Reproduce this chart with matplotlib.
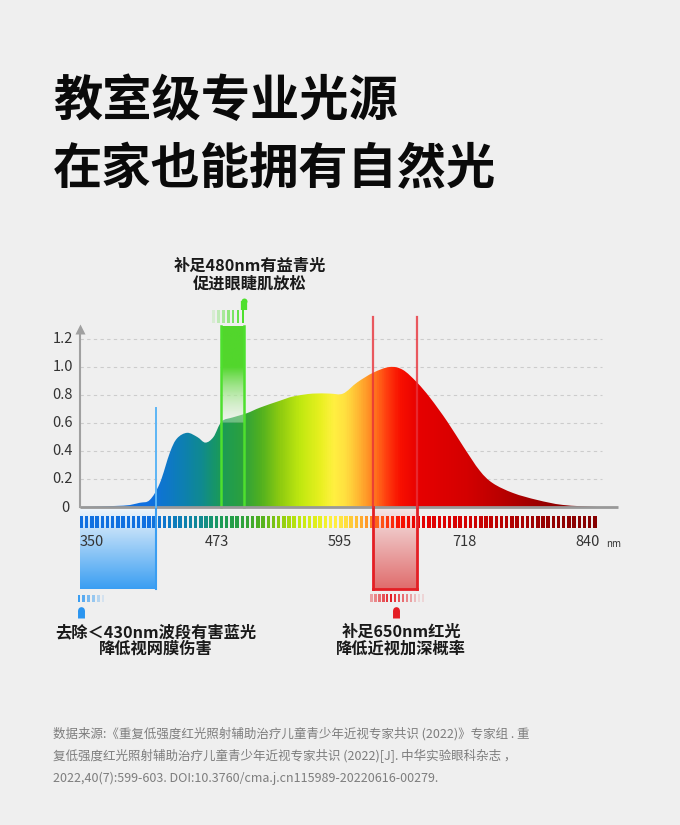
import numpy as np
import matplotlib
matplotlib.use("Agg")
import matplotlib.pyplot as plt
from matplotlib.colors import LinearSegmentedColormap, to_rgba
from matplotlib.patches import PathPatch
from matplotlib.path import Path

plt.rcParams['font.family'] = ['Noto Sans CJK SC', 'DejaVu Sans']

# 光谱曲线 (波长 nm, 相对强度)
wavelength = [338, 381, 397, 407, 417, 427, 434, 444, 454, 462, 470, 478, 489, 503,
              516, 536, 549, 568, 585, 598, 612, 628, 644, 657, 671, 684, 701, 717,
              733, 746, 766, 790, 815, 849]
intensity = [0.0, 0.01, 0.03, 0.05, 0.17, 0.39, 0.49, 0.53, 0.50, 0.46, 0.50, 0.61, 0.64, 0.67,
             0.71, 0.76, 0.79, 0.81, 0.81, 0.81, 0.89, 0.96, 1.00, 0.98, 0.89, 0.78, 0.61, 0.43,
             0.26, 0.17, 0.10, 0.05, 0.015, 0.0]

x_ticks = [350, 473, 595, 718, 840]
y_ticks = [0.2, 0.4, 0.6, 0.8, 1.0, 1.2]
y_tick_labels = ['0.2', '0.4', '0.6', '0.8', '1.0', '1.2']

# 三个标注波段
blue_band = [338.1, 413]
green_band = [477.5, 500.2]
red_band = [627.6, 671]

# 光谱配色
spec_nm = [338, 407, 440, 457, 476, 496, 516, 536, 555, 575, 588, 600, 615, 627, 640, 654, 674, 720, 760, 800, 849]
spec_col = ['#1070e0', '#1070e0', '#0d80b0', '#108a90', '#1a9a58', '#2aa040', '#50b020', '#90cc10',
            '#c0e810', '#e8f020', '#fff040', '#ffe040', '#ffb030', '#ff8020', '#ff4010', '#f81000',
            '#e60000', '#d40000', '#b50000', '#950000', '#850000']
spec_cmap = LinearSegmentedColormap.from_list(
    'spec', [((n - spec_nm[0]) / (spec_nm[-1] - spec_nm[0]), c) for n, c in zip(spec_nm, spec_col)])


def smooth_area_path(xs, ys):
    # Catmull-Rom -> bezier, chỉ để vẽ mượt qua các điểm đã đọc
    p = np.column_stack([xs, ys]).astype(float)
    pp = np.vstack([p[0], p, p[-1]])
    verts = [p[0]]
    codes = [Path.MOVETO]
    for i in range(1, len(pp) - 2):
        c1 = pp[i] + (pp[i + 1] - pp[i - 1]) / 6
        c2 = pp[i + 1] - (pp[i + 2] - pp[i]) / 6
        c1[1] = max(c1[1], 0)
        c2[1] = max(c2[1], 0)
        verts += [c1, c2, pp[i + 1]]
        codes += [Path.CURVE4] * 3
    verts += [(xs[-1], 0), (xs[0], 0), (xs[0], 0)]
    codes += [Path.LINETO, Path.LINETO, Path.CLOSEPOLY]
    return Path(verts, codes)


BG = '#efefef'
fig = plt.figure(figsize=(6.8, 8.25), dpi=100, facecolor=BG)
ax = fig.add_axes([0, 0, 1, 1])
ax.set_facecolor(BG)
ax.set_xlim(259.1, 930.9)
ax.set_ylim(-2.271, 3.621)
ax.axis('off')

x0, x_end = 338.1, 869.7

# 网格线
for yv in y_ticks:
    ax.plot([x0, 853.9], [yv, yv], color='#cccccc', lw=0.8, dashes=(3, 3), zorder=1)

# 曲线 + 渐变填充
patch = PathPatch(smooth_area_path(wavelength, intensity), facecolor='none', edgecolor='none')
ax.add_patch(patch)
grad = np.linspace(0, 1, 800)[np.newaxis, :]
im = ax.imshow(grad, extent=[spec_nm[0], spec_nm[-1], 0, 1.05], aspect='auto',
               cmap=spec_cmap, origin='lower', zorder=2, interpolation='bilinear')
im.set_clip_path(patch)

# 绿色波段
top_g = 1.29
n = 200
g = np.zeros((n, 1, 4))
gc = np.array(to_rgba('#52d62c'))
for i, t in enumerate(np.linspace(0, 1, n)):
    yv = t * top_g
    if yv > 1.0:
        g[i, 0] = gc
    elif yv > 0.6:
        s = (yv - 0.6) / 0.4
        col = gc * s + np.array([0.95, 0.98, 0.93, 1]) * (1 - s)
        col[3] = 0.35 + 0.65 * s
        g[i, 0] = col
ax.imshow(g, extent=[green_band[0], green_band[1], 0, top_g], aspect='auto', origin='lower',
          zorder=3, interpolation='bilinear')
for xv in green_band:
    ax.plot([xv, xv], [0, top_g], color='#4ee02e', lw=1.8, zorder=4)
gx = np.linspace(470, green_band[1] - 1, 7)
bars = ax.bar(gx, 0.093, width=2.6, bottom=1.314, color='#4ee02e', edgecolor='none', zorder=4)
for i, p in enumerate(bars):
    p.set_alpha(0.15 + 0.85 * i / 6)
ax.plot([500, 500], [1.41, 1.47], color='#4ee02e', lw=4.5, solid_capstyle='butt', zorder=4)
ax.plot([500], [1.47], marker='o', ms=4.3, color='#4ee02e', mec='none', zorder=4)
gtx = 350 + (250 - 92) / 1.0122
ax.text(gtx, 1.721, '补足480nm有益青光', ha='center', va='center',
        fontsize=11.7, fontweight='bold', color='#1a1a1a')
ax.text(gtx, 1.598, '促进眼睫肌放松', ha='center', va='center',
        fontsize=11.7, fontweight='bold', color='#1a1a1a')

# 基线与y轴
ax.plot([x0, x_end], [0, 0], color='#999999', lw=2, zorder=5, solid_capstyle='butt')
ax.plot([x0, x0], [0, 1.26], color='#a0a0a0', lw=1.5, zorder=5)
ax.plot([x0], [1.27], marker='^', ms=7, color='#a0a0a0', mec='none', zorder=5)

# 色条
strip_x = np.linspace(339.7, 846.8, 100)
ax.bar(strip_x, 0.086, width=3.4, bottom=-0.15,
       color=spec_cmap((strip_x - spec_nm[0]) / (spec_nm[-1] - spec_nm[0])),
       edgecolor='none', zorder=6)

# 蓝色区域
box_bot = -0.586
b = np.zeros((n, 1, 4))
c_top = np.array(to_rgba('#eef5fb'))
c_bot = np.array(to_rgba('#3a9ef2'))
for i, t in enumerate(np.linspace(0, 1, n)):
    b[i, 0] = c_bot * (1 - t) + c_top * t
ax.imshow(b, extent=[blue_band[0], blue_band[1], box_bot, -0.02], aspect='auto', origin='lower',
          zorder=4, interpolation='bilinear')
ax.plot([blue_band[1], blue_band[1]], [box_bot, 0], color='#3a9ef2', lw=1.5, zorder=7)
ax.plot([blue_band[1], blue_band[1]], [0, 0.71], color='#5db5f5', lw=1.4, zorder=7)
bx = np.linspace(337, 361, 6)
bars = ax.bar(bx, 0.05, width=2.6, bottom=-0.679, color='#3a9ef2', edgecolor='none', zorder=6)
for i, p in enumerate(bars):
    p.set_alpha(1 - 0.85 * i / 5)
ax.plot([339.5, 339.5], [-0.79, -0.735], color='#2a95f0', lw=5, solid_capstyle='butt', zorder=6)
ax.plot([339.5], [-0.735], marker='o', ms=4.8, color='#2a95f0', mec='none', zorder=6)
btx = 350 + (156 - 92) / 1.0122
ax.text(btx, -0.893, '去除＜430nm波段有害蓝光', ha='center', va='center',
        fontsize=11.7, fontweight='bold', color='#1a1a1a')
ax.text(btx, -1.014, '降低视网膜伤害', ha='center', va='center',
        fontsize=11.7, fontweight='bold', color='#1a1a1a')

# 红色区域
r = np.zeros((n, 1, 4))
r_top = np.array(to_rgba('#f4e4e4'))
r_bot = np.array(to_rgba('#e06c6c'))
for i, t in enumerate(np.linspace(0, 1, n)):
    r[i, 0] = r_bot * (1 - t) + r_top * t
ax.imshow(r, extent=[red_band[0], red_band[1], box_bot, -0.02], aspect='auto', origin='lower',
          zorder=4, interpolation='bilinear')
for xv in red_band:
    ax.plot([xv, xv], [box_bot, 0], color='#e41e24', lw=2, zorder=7)
    ax.plot([xv, xv], [0, 1.36], color='#e8323a', lw=1.6, alpha=0.8, zorder=7)
ax.plot([red_band[0], red_band[1]], [box_bot, box_bot], color='#e41e24', lw=2, zorder=7)
rx = np.linspace(626, 677, 14)
bars = ax.bar(rx, 0.06, width=2.4, bottom=-0.679, color='#e41e24', edgecolor='none', zorder=6)
for i, p in enumerate(bars):
    p.set_alpha(max(0.12, 1 - abs(i - 5) / 8))
ax.plot([650.3, 650.3], [-0.79, -0.735], color='#e41e24', lw=5, solid_capstyle='butt', zorder=6)
ax.plot([650.3], [-0.735], marker='o', ms=4.8, color='#e41e24', mec='none', zorder=6)
rtx = 350 + (401 - 92) / 1.0122
ax.text(rtx, -0.893, '补足650nm红光', ha='center', va='center',
        fontsize=11.7, fontweight='bold', color='#1a1a1a')
ax.text(rtx, -1.014, '降低近视加深概率', ha='center', va='center',
        fontsize=11.7, fontweight='bold', color='#1a1a1a')

# 刻度标签
for xv in x_ticks:
    ax.text(xv, -0.25, str(xv), ha='center', va='center', fontsize=10.5, color='#333333', zorder=8)
ax.text(865.2, -0.264, 'nm', ha='center', va='center', fontsize=7, color='#333333')
for yv, lab in zip(y_ticks, y_tick_labels):
    ax.text(331.2, yv, lab, ha='right', va='center', fontsize=10.5, color='#333333')
ax.text(327.3, -0.007, '0', ha='right', va='center', fontsize=10.5, color='#333333')

# 标题
fig.text(53 / 680, 1 - 102 / 825, '教室级专业光源', fontsize=35.5, fontweight='bold',
         color='#0a0a0a', va='center', ha='left')
fig.text(53 / 680, 1 - 170 / 825, '在家也能拥有自然光', fontsize=35.5, fontweight='bold',
         color='#0a0a0a', va='center', ha='left')

# 数据来源
notes = ['数据来源:《重复低强度红光照射辅助治疗儿童青少年近视专家共识 (2022)》专家组 . 重',
         '复低强度红光照射辅助治疗儿童青少年近视专家共识 (2022)[J]. 中华实验眼科杂志 ，',
         '2022,40(7):599-603. DOI:10.3760/cma.j.cn115989-20220616-00279.']
for i, line in enumerate(notes):
    fig.text(53 / 680, 1 - (734 + 22 * i) / 825, line, fontsize=9, color='#7d7d7d',
             va='center', ha='left')

fig.savefig('out.png', dpi=100, facecolor=BG)
